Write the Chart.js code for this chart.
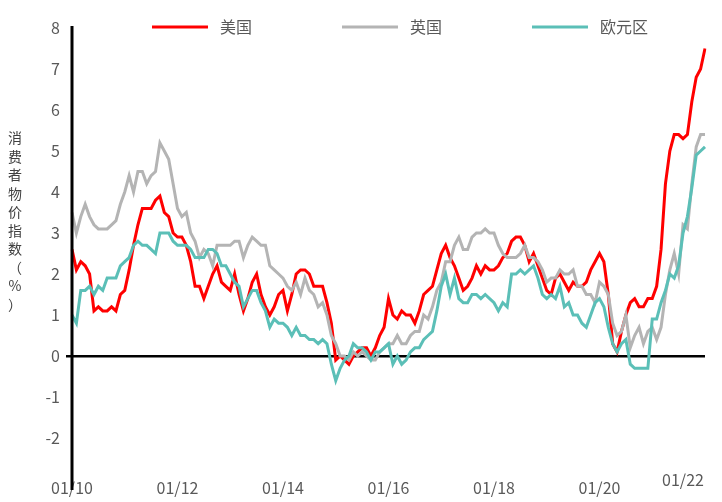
<!DOCTYPE html>
<html>
<head>
<meta charset="utf-8">
<script src="https://cdn.jsdelivr.net/npm/chart.js@4"></script>
<style>
  body { margin: 0; background: #fff; }
  #wrap { width: 722px; height: 502px; position: relative; }
</style>
</head>
<body>
<div id="wrap"><canvas id="c"></canvas></div>
<script>
// 月度数据 2010/01 - 2022/01
const years = [10, 11, 12, 13, 14, 15, 16, 17, 18, 19, 20, 21, 22];
const usCPI = [
  2.6,2.1,2.3,2.2,2.0,1.1,1.2,1.1,1.1,1.2,1.1,1.5,
  1.6,2.1,2.7,3.2,3.6,3.6,3.6,3.8,3.9,3.5,3.4,3.0,
  2.9,2.9,2.7,2.3,1.7,1.7,1.4,1.7,2.0,2.2,1.8,1.7,
  1.6,2.0,1.5,1.1,1.4,1.8,2.0,1.5,1.2,1.0,1.2,1.5,
  1.6,1.1,1.5,2.0,2.1,2.1,2.0,1.7,1.7,1.7,1.3,0.8,
  -0.1,0.0,-0.1,-0.2,0.0,0.1,0.2,0.2,0.0,0.2,0.5,0.7,
  1.4,1.0,0.9,1.1,1.0,1.0,0.8,1.1,1.5,1.6,1.7,2.1,
  2.5,2.7,2.4,2.2,1.9,1.6,1.7,1.9,2.2,2.0,2.2,2.1,
  2.1,2.2,2.4,2.5,2.8,2.9,2.9,2.7,2.3,2.5,2.2,1.9,
  1.6,1.5,1.9,2.0,1.8,1.6,1.8,1.7,1.7,1.8,2.1,2.3,
  2.5,2.3,1.5,0.3,0.1,0.6,1.0,1.3,1.4,1.2,1.2,1.4,
  1.4,1.7,2.6,4.2,5.0,5.4,5.4,5.3,5.4,6.2,6.8,7.0,
  7.5
];
const ukCPI = [
  3.5,3.0,3.4,3.7,3.4,3.2,3.1,3.1,3.1,3.2,3.3,3.7,
  4.0,4.4,4.0,4.5,4.5,4.2,4.4,4.5,5.2,5.0,4.8,4.2,
  3.6,3.4,3.5,3.0,2.8,2.4,2.6,2.5,2.2,2.7,2.7,2.7,
  2.7,2.8,2.8,2.4,2.7,2.9,2.8,2.7,2.7,2.2,2.1,2.0,
  1.9,1.7,1.6,1.8,1.5,1.9,1.6,1.5,1.2,1.3,1.0,0.5,
  0.3,0.0,0.0,-0.1,0.1,0.0,0.1,0.0,-0.1,-0.1,0.1,0.2,
  0.3,0.3,0.5,0.3,0.3,0.5,0.6,0.6,1.0,0.9,1.2,1.6,
  1.8,2.3,2.3,2.7,2.9,2.6,2.6,2.9,3.0,3.0,3.1,3.0,
  3.0,2.7,2.5,2.4,2.4,2.4,2.5,2.7,2.4,2.4,2.3,2.1,
  1.8,1.9,1.9,2.1,2.0,2.0,2.1,1.7,1.7,1.5,1.5,1.3,
  1.8,1.7,1.5,0.8,0.5,0.6,1.0,0.2,0.5,0.7,0.3,0.6,
  0.7,0.4,0.7,1.5,2.1,2.5,2.0,3.2,3.1,4.2,5.1,5.4,
  5.4
];
const ezCPI = [
  1.0,0.8,1.6,1.6,1.7,1.5,1.7,1.6,1.9,1.9,1.9,2.2,
  2.3,2.4,2.7,2.8,2.7,2.7,2.6,2.5,3.0,3.0,3.0,2.8,
  2.7,2.7,2.7,2.6,2.4,2.4,2.4,2.6,2.6,2.5,2.2,2.2,
  2.0,1.8,1.7,1.2,1.4,1.6,1.6,1.3,1.1,0.7,0.9,0.8,
  0.8,0.7,0.5,0.7,0.5,0.5,0.4,0.4,0.3,0.4,0.3,-0.2,
  -0.6,-0.3,-0.1,0.0,0.3,0.2,0.2,0.1,-0.1,0.1,0.1,0.2,
  0.3,-0.2,0.0,-0.2,-0.1,0.1,0.2,0.2,0.4,0.5,0.6,1.1,
  1.7,2.0,1.5,1.9,1.4,1.3,1.3,1.5,1.5,1.4,1.5,1.4,
  1.3,1.1,1.3,1.2,2.0,2.0,2.1,2.0,2.1,2.2,1.9,1.5,
  1.4,1.5,1.4,1.7,1.2,1.3,1.0,1.0,0.8,0.7,1.0,1.3,
  1.4,1.2,0.7,0.3,0.1,0.3,0.4,-0.2,-0.3,-0.3,-0.3,-0.3,
  0.9,0.9,1.3,1.6,2.0,1.9,2.2,3.0,3.4,4.1,4.9,5.0,
  5.1
];
const seriesNames = ['美国', '英国', '欧元区'];
const seriesColors = ['#ff0000', '#b4b4b4', '#5bbfb7'];
const yTitle = '消费者物价指数（%）';

// 类别标签 01/10 ... 01/22
const labels = [];
years.forEach(y => {
  for (let m = 1; m <= 12; m++) {
    if (labels.length < usCPI.length) labels.push(String(m).padStart(2, '0') + '/' + y);
  }
});
const lastIdx = labels.length - 1;

const FONT = '"Noto Sans CJK SC", "DejaVu Sans", sans-serif';

// 自定义图例 + 纵向标题 + 延长的y轴线 + 末尾标签
const decor = {
  id: 'decor',
  afterDraw(chart) {
    const ctx = chart.ctx;
    const area = chart.chartArea;
    ctx.save();
    // y 轴线延伸到底部
    ctx.strokeStyle = '#000';
    ctx.lineWidth = 3;
    ctx.beginPath();
    ctx.moveTo(area.left, area.top - 2);
    ctx.lineTo(area.left, 490);
    ctx.stroke();
    // 纵向标题
    ctx.fillStyle = '#404040';
    ctx.font = '14px ' + FONT;
    ctx.textAlign = 'center';
    ctx.textBaseline = 'middle';
    [...yTitle].forEach((ch, i) => ctx.fillText(ch, 15, 138 + i * 18.5));
    // 最后一个x标签（靠右对齐）
    ctx.fillStyle = '#595959';
    ctx.font = '16px ' + FONT;
    ctx.fillText(labels[lastIdx], 683, 480);
    // 图例
    const legendX = [152, 342, 532];
    ctx.textAlign = 'left';
    seriesNames.forEach((name, i) => {
      ctx.strokeStyle = seriesColors[i];
      ctx.lineWidth = 3;
      ctx.beginPath();
      ctx.moveTo(legendX[i], 27);
      ctx.lineTo(legendX[i] + 56, 27);
      ctx.stroke();
      ctx.fillStyle = '#595959';
      ctx.fillText(name, legendX[i] + 68, 27);
    });
    ctx.restore();
  }
};

const mk = (i, data) => ({
  label: seriesNames[i],
  data: data,
  borderColor: seriesColors[i],
  backgroundColor: seriesColors[i],
  borderWidth: 3,
  pointRadius: 0,
  tension: 0
});

new Chart(document.getElementById('c'), {
  type: 'line',
  data: {
    labels: labels,
    datasets: [mk(2, ezCPI), mk(1, ukCPI), mk(0, usCPI)]
  },
  options: {
    responsive: true,
    maintainAspectRatio: false,
    animation: false,
    layout: { padding: { left: 0, right: 17, top: 28, bottom: 0 } },
    plugins: { legend: { display: false }, tooltip: { enabled: false } },
    scales: {
      x: {
        offset: false,
        border: { display: false },
        grid: { display: false },
        afterFit: s => { s.height = 64; },
        ticks: {
          autoSkip: false,
          maxRotation: 0,
          padding: 32,
          color: '#595959',
          font: { size: 16, family: FONT },
          callback: (v, i) => (i % 24 === 0 && i < lastIdx ? labels[i] : null)
        }
      },
      y: {
        min: -2,
        max: 8,
        afterFit: s => { s.width = 72; },
        border: { display: false },
        grid: {
          drawTicks: true,
          tickLength: 6,
          tickColor: '#000',
          lineWidth: ctx => (ctx.tick && ctx.tick.value === 0 ? 2.5 : 0),
          color: ctx => (ctx.tick && ctx.tick.value === 0 ? '#000' : 'rgba(0,0,0,0)')
        },
        ticks: {
          stepSize: 1,
          padding: 6,
          color: '#595959',
          font: { size: 16, family: FONT }
        }
      }
    }
  },
  plugins: [decor]
});
</script>
</body>
</html>
